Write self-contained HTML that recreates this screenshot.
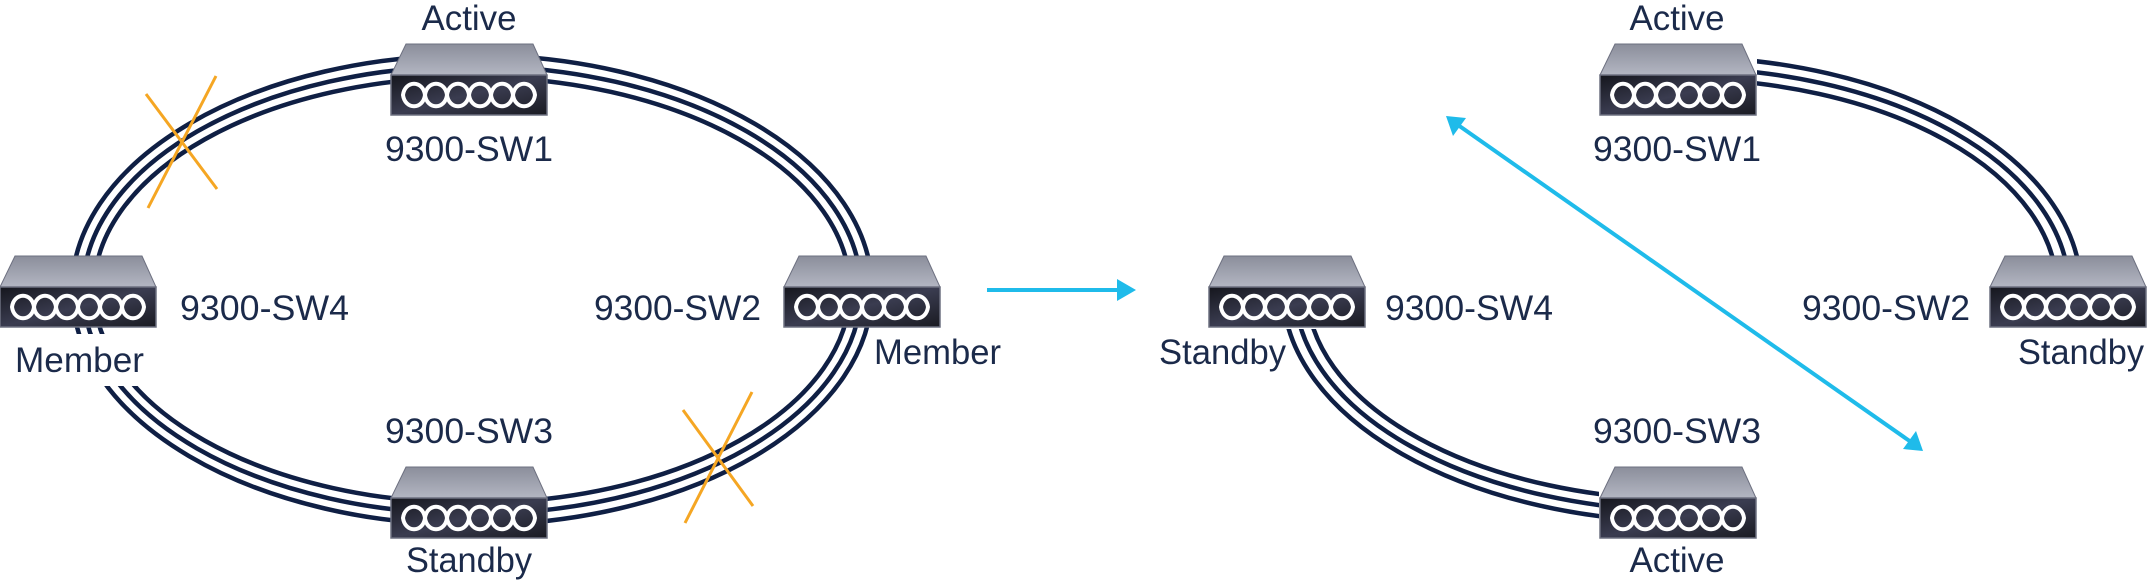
<!DOCTYPE html>
<html><head><meta charset="utf-8"><style>
html,body{margin:0;padding:0;background:#fff;}
svg{display:block}
text{font-family:"Liberation Sans",sans-serif;fill:#1b2a4a;font-size:35px;}
</style></head><body>
<svg width="2154" height="582" viewBox="0 0 2154 582" xmlns="http://www.w3.org/2000/svg">
<defs>
<linearGradient id="gt" x1="0" y1="0" x2="0" y2="1"><stop offset="0" stop-color="#8b8e9b"/><stop offset="1" stop-color="#b3b6c2"/></linearGradient>
<linearGradient id="gf" x1="0" y1="0" x2="1" y2="1"><stop offset="0" stop-color="#15161d"/><stop offset="0.5" stop-color="#3a3c50"/><stop offset="1" stop-color="#1a1b22"/></linearGradient>
<g id="sw">
<path d="M15 0 H142 L156 31 H0 Z" fill="url(#gt)" stroke="#6d7080" stroke-width="1"/>
<rect x="0" y="31" width="156" height="40" fill="url(#gf)" stroke="#6d7080" stroke-width="1.5"/>
<path fill="none" stroke="#fff" stroke-width="4" d="M12 51 C14 36 32 36 34 51 C36 36 54 36 56 51 C58 36 76 36 78 51 C80 36 98 36 100 51 C102 36 120 36 122 51 C124 36 142 36 144 51 C142 66 124 66 122 51 C120 66 102 66 100 51 C98 66 80 66 78 51 C76 66 58 66 56 51 C54 66 36 66 34 51 C32 66 14 66 12 51 Z"/>
</g>
<clipPath id="c1"><rect x="1757" y="0" width="400" height="257"/></clipPath>
<clipPath id="c2"><rect x="1100" y="329" width="499" height="260"/></clipPath>
</defs>

<g fill="none" stroke="#0f1f44" stroke-width="4.5">
<ellipse cx="472" cy="290" rx="400" ry="235"/>
<ellipse cx="472" cy="290" rx="389" ry="224"/>
<ellipse cx="472" cy="290" rx="378" ry="213"/>
</g>
<rect x="0" y="334" width="170" height="52" fill="#fff"/>

<g fill="none" stroke="#0f1f44" stroke-width="4.5" clip-path="url(#c1)">
<ellipse cx="1680" cy="290" rx="401" ry="233"/>
<ellipse cx="1680" cy="290" rx="389" ry="222"/>
<ellipse cx="1680" cy="290" rx="377" ry="211"/>
</g>
<g fill="none" stroke="#0f1f44" stroke-width="4.5" clip-path="url(#c2)">
<ellipse cx="1690" cy="290" rx="407" ry="232"/>
<ellipse cx="1690" cy="290" rx="395" ry="221"/>
<ellipse cx="1690" cy="290" rx="383" ry="210"/>
</g>

<use href="#sw" x="391" y="44"/>
<use href="#sw" x="0" y="256"/>
<use href="#sw" x="784" y="256"/>
<use href="#sw" x="391" y="467"/>
<use href="#sw" x="1600" y="44"/>
<use href="#sw" x="1209" y="256"/>
<use href="#sw" x="1990" y="256"/>
<use href="#sw" x="1600" y="467"/>

<g stroke="#f5a623" stroke-width="3" fill="none">
<line x1="146" y1="94" x2="217" y2="189"/><line x1="216" y1="76" x2="148" y2="208"/>
<line x1="683" y1="410" x2="753" y2="506"/><line x1="752" y1="392" x2="685" y2="523"/>
</g>

<g stroke="#1fbbea" stroke-width="4" fill="#1fbbea">
<line x1="987" y1="290" x2="1120" y2="290"/>
<line x1="1458" y1="125" x2="1911" y2="442"/>
</g>
<g fill="#1fbbea">
<polygon points="1136,290 1117,279 1117,301"/>
<polygon points="1446,116 1466,118 1453,136"/>
<polygon points="1923,451 1903,449 1916,431"/>
</g>

<text x="469" y="30" text-anchor="middle" textLength="95" lengthAdjust="spacingAndGlyphs">Active</text>
<text x="469" y="161" text-anchor="middle" textLength="168" lengthAdjust="spacingAndGlyphs">9300-SW1</text>
<text x="180" y="320" textLength="169" lengthAdjust="spacingAndGlyphs">9300-SW4</text>
<text x="15" y="372" textLength="129" lengthAdjust="spacingAndGlyphs">Member</text>
<text x="594" y="320" textLength="167" lengthAdjust="spacingAndGlyphs">9300-SW2</text>
<text x="874" y="364" textLength="127" lengthAdjust="spacingAndGlyphs">Member</text>
<text x="469" y="443" text-anchor="middle" textLength="168" lengthAdjust="spacingAndGlyphs">9300-SW3</text>
<text x="469" y="572" text-anchor="middle" textLength="126" lengthAdjust="spacingAndGlyphs">Standby</text>

<text x="1677" y="30" text-anchor="middle" textLength="95" lengthAdjust="spacingAndGlyphs">Active</text>
<text x="1677" y="161" text-anchor="middle" textLength="168" lengthAdjust="spacingAndGlyphs">9300-SW1</text>
<text x="1385" y="320" textLength="168" lengthAdjust="spacingAndGlyphs">9300-SW4</text>
<text x="1159" y="364" textLength="127" lengthAdjust="spacingAndGlyphs">Standby</text>
<text x="1802" y="320" textLength="168" lengthAdjust="spacingAndGlyphs">9300-SW2</text>
<text x="2018" y="364" textLength="126" lengthAdjust="spacingAndGlyphs">Standby</text>
<text x="1677" y="443" text-anchor="middle" textLength="168" lengthAdjust="spacingAndGlyphs">9300-SW3</text>
<text x="1677" y="572" text-anchor="middle" textLength="95" lengthAdjust="spacingAndGlyphs">Active</text>
</svg>
</body></html>
